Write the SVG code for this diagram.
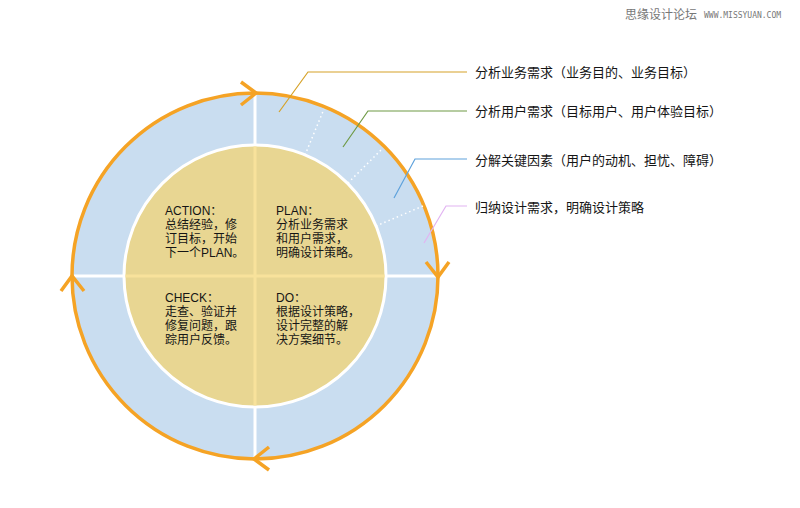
<svg xmlns="http://www.w3.org/2000/svg" width="800" height="508" viewBox="0 0 800 508">
<style>
.t{font-family:"Liberation Sans","Noto Sans CJK SC",sans-serif;fill:#151515}
.lbl{font-size:13px}
.in{font-size:12px}
.ld{fill:none;stroke-width:1.2}
.chev{fill:none;stroke:#f5a325;stroke-width:3.5;stroke-linecap:butt;stroke-linejoin:miter}
.dot{stroke:#ffffff;stroke-width:1.5;stroke-dasharray:1.5 3}
</style>
<defs>
<path id="chv" d="M-15,-11 L0,0 L-15,12" class="chev"/>
</defs>
<rect width="800" height="508" fill="#ffffff"/>
<g id="watermark">
<text x="625" y="19" class="t" style="font-size:12px;fill:#777">思缘设计论坛</text>
<text x="704" y="18" style="font-family:'DejaVu Sans Mono',monospace;font-size:8px;fill:#777">WWW.MISSYUAN.COM</text>
</g>
<g id="ring">
<circle cx="255" cy="276" r="183" fill="#c9ddf0" stroke="#f5a325" stroke-width="3.5"/>
<line x1="255" y1="95" x2="255" y2="457" stroke="#ffffff" stroke-width="3"/>
<line x1="74" y1="276" x2="436" y2="276" stroke="#ffffff" stroke-width="3"/>
<line x1="305" y1="155" x2="324" y2="109" class="dot"/>
<line x1="348" y1="183" x2="383" y2="148" class="dot"/>
<line x1="376" y1="226" x2="423" y2="206" class="dot"/>
</g>
<g id="core">
<circle cx="255" cy="276" r="131" fill="#e8d692" stroke="#ffffff" stroke-width="3"/>
<line x1="255" y1="146.5" x2="255" y2="405.5" stroke="#f8e29b" stroke-width="3"/>
<line x1="125.5" y1="276" x2="384.5" y2="276" stroke="#f8e29b" stroke-width="3"/>
</g>
<g id="arrows">
<use href="#chv" transform="translate(256,93)"/>
<use href="#chv" transform="translate(438,277) rotate(90)"/>
<use href="#chv" transform="translate(254,459) rotate(180)"/>
<use href="#chv" transform="translate(72,276) rotate(-90)"/>
</g>
<g id="action">
<text class="t in"><tspan x="165" y="215">ACTION：</tspan><tspan x="165" y="229">总结经验，修</tspan><tspan x="165" y="243">订目标，开始</tspan><tspan x="165" y="257">下一个PLAN。</tspan></text>
</g>
<g id="plan">
<text class="t in"><tspan x="276" y="215">PLAN：</tspan><tspan x="276" y="229">分析业务需求</tspan><tspan x="276" y="243">和用户需求，</tspan><tspan x="276" y="257">明确设计策略。</tspan></text>
</g>
<g id="check">
<text class="t in"><tspan x="165" y="302">CHECK：</tspan><tspan x="165" y="316">走查、验证并</tspan><tspan x="165" y="330">修复问题，跟</tspan><tspan x="165" y="344">踪用户反馈。</tspan></text>
</g>
<g id="do">
<text class="t in"><tspan x="276" y="302">DO：</tspan><tspan x="276" y="316">根据设计策略，</tspan><tspan x="276" y="330">设计完整的解</tspan><tspan x="276" y="344">决方案细节。</tspan></text>
</g>
<g id="connectors">
<polyline class="ld" stroke="#d6a228" points="279,112 308,72 467,72"/>
<polyline class="ld" stroke="#6f9a45" points="343,147 368,111 467,111"/>
<polyline class="ld" stroke="#5ea2dc" points="394,198 415,159 467,159"/>
<polyline class="ld" stroke="#e2b4f2" points="424,243 446,206 467,206"/>
</g>
<g id="label1"><text class="t lbl" x="475" y="77">分析业务需求（业务目的、业务目标）</text></g>
<g id="label2"><text class="t lbl" x="475" y="116">分析用户需求（目标用户、用户体验目标）</text></g>
<g id="label3"><text class="t lbl" x="475" y="165">分解关键因素（用户的动机、担忧、障碍）</text></g>
<g id="label4"><text class="t lbl" x="475" y="212">归纳设计需求，明确设计策略</text></g>
</svg>
